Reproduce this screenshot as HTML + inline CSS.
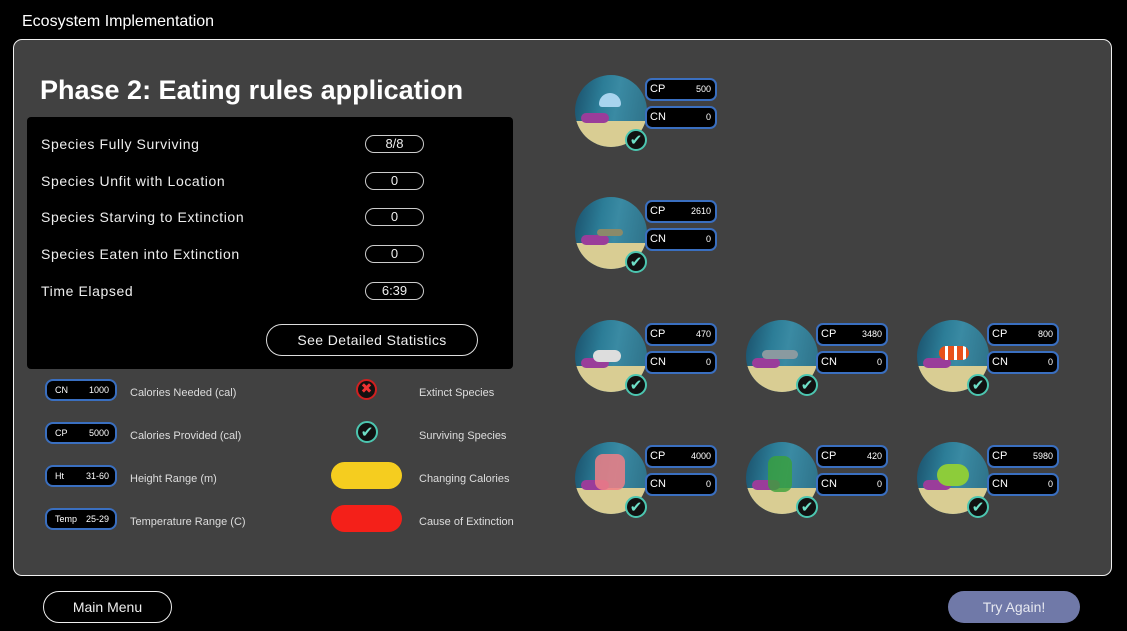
<!DOCTYPE html>
<html><head><meta charset="utf-8"><style>
*{box-sizing:border-box;margin:0;padding:0}
body{width:1127px;height:631px;background:#000;position:relative;overflow:hidden;font-family:"Liberation Sans",sans-serif;color:#eee}
.a{position:absolute}
.panel{left:13px;top:39px;width:1099px;height:537px;background:#414141;border:1.5px solid #f0f0f0;border-radius:9px}
.box{left:27px;top:117px;width:486px;height:252px;background:#000;border-radius:4px}
.lbl{font-size:14px;color:#eee;letter-spacing:0.6px}
.pill{width:59px;height:18px;border:1.5px solid #ccc;border-radius:9px;font-size:13px;text-align:center;line-height:16px;color:#eee}
.bd{width:72px;height:23px;background:#000;border:2px solid #3a6fc0;border-radius:7px;font-size:11px;color:#fff}
.bd b{position:absolute;left:3px;top:3px;font-weight:normal}
.bd i{position:absolute;right:4px;top:4px;font-style:normal;font-size:9px}
.sb{width:72px;height:22px;background:#000;border:2px solid #3a6fc0;border-radius:8px;font-size:9px;color:#fff}
.sb b{position:absolute;left:8px;top:4px;font-weight:normal}
.sb i{position:absolute;right:6px;top:4px;font-style:normal}
.circ{width:72px;height:72px;border-radius:50%;background:linear-gradient(100deg,#1a4f6a 0%,#2c7d97 35%,#3a8aa3 55%,#2d6f86 100%);overflow:hidden}
.circ .sand{position:absolute;left:0;top:46px;width:72px;height:30px;background:#d9cd93}
.circ .rock{position:absolute;left:6px;top:38px;width:28px;height:10px;border-radius:5px;background:#9a3d9a}
.chk{width:22px;height:22px;border-radius:50%;background:#111;border:2px solid #4cc6b0;color:#6fe0c8;font-size:15px;text-align:center;line-height:18px;font-weight:bold;font-family:"DejaVu Sans",sans-serif}
.leg{font-size:11px;color:#ddd}
</style></head><body>
<div class="a" style="left:22px;top:13px;font-size:16px;color:#fff">Ecosystem Implementation</div>
<div class="a panel"></div>
<div class="a" style="left:40px;top:75px;font-size:27px;font-weight:bold;color:#fff">Phase 2: Eating rules application</div>
<div class="a box"></div>
<div class="a lbl" style="left:41px;top:136px">Species Fully Surviving</div>
<div class="a lbl" style="left:41px;top:173px">Species Unfit with Location</div>
<div class="a lbl" style="left:41px;top:209px">Species Starving to Extinction</div>
<div class="a lbl" style="left:41px;top:246px">Species Eaten into Extinction</div>
<div class="a lbl" style="left:41px;top:283px">Time Elapsed</div>
<div class="a pill" style="left:365px;top:135px">8/8</div>
<div class="a pill" style="left:365px;top:172px">0</div>
<div class="a pill" style="left:365px;top:208px">0</div>
<div class="a pill" style="left:365px;top:245px">0</div>
<div class="a pill" style="left:365px;top:282px">6:39</div>
<div class="a" style="left:266px;top:324px;width:212px;height:32px;border:1.5px solid #ddd;border-radius:16px;font-size:14px;text-align:center;line-height:30px;letter-spacing:0.4px">See Detailed Statistics</div>

<div class="a sb" style="left:45px;top:379px"><b>CN</b><i>1000</i></div>
<div class="a sb" style="left:45px;top:422px"><b>CP</b><i>5000</i></div>
<div class="a sb" style="left:45px;top:465px"><b>Ht</b><i>31-60</i></div>
<div class="a sb" style="left:45px;top:508px"><b>Temp</b><i>25-29</i></div>
<div class="a leg" style="left:130px;top:383px;margin-top:4px">Calories Needed (cal)</div>
<div class="a leg" style="left:130px;top:430px">Calories Provided (cal)</div>
<div class="a leg" style="left:130px;top:473px">Height Range (m)</div>
<div class="a leg" style="left:130px;top:516px">Temperature Range (C)</div>
<div class="a" style="left:356px;top:379px;width:21px;height:21px;border-radius:50%;background:#111;border:2px solid #d02020;color:#e33;font-size:14px;font-weight:bold;text-align:center;line-height:17px;font-family:'DejaVu Sans',sans-serif">✖</div>
<div class="a chk" style="left:356px;top:421px"><span>✔</span></div>
<div class="a" style="left:331px;top:462px;width:71px;height:27px;border-radius:14px;background:#f5cd1f"></div>
<div class="a" style="left:331px;top:505px;width:71px;height:27px;border-radius:14px;background:#f42019"></div>
<div class="a leg" style="left:419px;top:387px">Extinct Species</div>
<div class="a leg" style="left:419px;top:430px">Surviving Species</div>
<div class="a leg" style="left:419px;top:473px">Changing Calories</div>
<div class="a leg" style="left:419px;top:516px">Cause of Extinction</div>

<div class="a" style="left:575px;top:75px"><div class="a circ"><div class="sand"></div><div class="rock"></div><div class="a" style="left:24px;top:18px;width:22px;height:14px;border-radius:11px 11px 3px 3px;background:#a9d4ee"></div></div><div class="a bd" style="left:70px;top:3px"><b>CP</b><i>500</i></div><div class="a bd" style="left:70px;top:31px"><b>CN</b><i>0</i></div><div class="a chk" style="left:50px;top:54px">✔</div></div>
<div class="a" style="left:575px;top:197px"><div class="a circ"><div class="sand"></div><div class="rock"></div><div class="a" style="left:22px;top:32px;width:26px;height:7px;border-radius:4px;background:#8a8a6a"></div></div><div class="a bd" style="left:70px;top:3px"><b>CP</b><i>2610</i></div><div class="a bd" style="left:70px;top:31px"><b>CN</b><i>0</i></div><div class="a chk" style="left:50px;top:54px">✔</div></div>
<div class="a" style="left:575px;top:320px"><div class="a circ"><div class="sand"></div><div class="rock"></div><div class="a" style="left:18px;top:30px;width:28px;height:12px;border-radius:6px;background:#ddd"></div></div><div class="a bd" style="left:70px;top:3px"><b>CP</b><i>470</i></div><div class="a bd" style="left:70px;top:31px"><b>CN</b><i>0</i></div><div class="a chk" style="left:50px;top:54px">✔</div></div>
<div class="a" style="left:746px;top:320px"><div class="a circ"><div class="sand"></div><div class="rock"></div><div class="a" style="left:16px;top:30px;width:36px;height:9px;border-radius:5px;background:#8a9aa0"></div></div><div class="a bd" style="left:70px;top:3px"><b>CP</b><i>3480</i></div><div class="a bd" style="left:70px;top:31px"><b>CN</b><i>0</i></div><div class="a chk" style="left:50px;top:54px">✔</div></div>
<div class="a" style="left:917px;top:320px"><div class="a circ"><div class="sand"></div><div class="rock"></div><div class="a" style="left:22px;top:26px;width:30px;height:14px;border-radius:7px;background:repeating-linear-gradient(90deg,#e8501a 0 6px,#fff 6px 9px)"></div></div><div class="a bd" style="left:70px;top:3px"><b>CP</b><i>800</i></div><div class="a bd" style="left:70px;top:31px"><b>CN</b><i>0</i></div><div class="a chk" style="left:50px;top:54px">✔</div></div>
<div class="a" style="left:575px;top:442px"><div class="a circ"><div class="sand"></div><div class="rock"></div><div class="a" style="left:20px;top:12px;width:30px;height:36px;border-radius:8px;background:#f07f86;opacity:.85"></div></div><div class="a bd" style="left:70px;top:3px"><b>CP</b><i>4000</i></div><div class="a bd" style="left:70px;top:31px"><b>CN</b><i>0</i></div><div class="a chk" style="left:50px;top:54px">✔</div></div>
<div class="a" style="left:746px;top:442px"><div class="a circ"><div class="sand"></div><div class="rock"></div><div class="a" style="left:22px;top:14px;width:24px;height:36px;border-radius:8px;background:#3aa13a;opacity:.8"></div></div><div class="a bd" style="left:70px;top:3px"><b>CP</b><i>420</i></div><div class="a bd" style="left:70px;top:31px"><b>CN</b><i>0</i></div><div class="a chk" style="left:50px;top:54px">✔</div></div>
<div class="a" style="left:917px;top:442px"><div class="a circ"><div class="sand"></div><div class="rock"></div><div class="a" style="left:20px;top:22px;width:32px;height:22px;border-radius:11px;background:#8dcc3a"></div></div><div class="a bd" style="left:70px;top:3px"><b>CP</b><i>5980</i></div><div class="a bd" style="left:70px;top:31px"><b>CN</b><i>0</i></div><div class="a chk" style="left:50px;top:54px">✔</div></div>

<div class="a" style="left:43px;top:591px;width:129px;height:32px;border:1.5px solid #eee;border-radius:16px;font-size:14px;text-align:center;line-height:30px">Main Menu</div>
<div class="a" style="left:948px;top:591px;width:132px;height:32px;background:#7079a8;border-radius:16px;font-size:14px;text-align:center;line-height:32px;color:#e6e8f0">Try Again!</div>
</body></html>
